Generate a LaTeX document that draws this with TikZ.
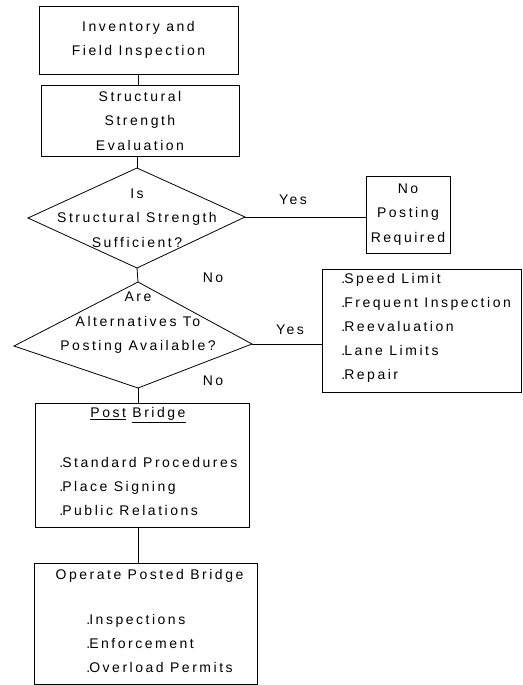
\documentclass[tikz,border=0pt]{standalone}
\usepackage{fontspec}
\setmainfont{Liberation Sans}[LetterSpace=18]
\usetikzlibrary{calc}

\newcommand{\itm}[1]{.\kern-1pt#1}

\tikzset{
  box/.style={draw, line width=0.8pt, inner sep=0pt},
  txt/.style={font=\fontsize{14}{24.5}\selectfont, align=center, inner sep=0pt},
  lst/.style={font=\fontsize{14}{24}\selectfont, align=left, inner sep=0pt, anchor=west}
}

\begin{document}
\begin{tikzpicture}[x=1pt, y=-1pt, line width=0.8pt]
  \useasboundingbox (0,0) rectangle (522,685);

  % boxes on the main line
  \node[box, txt, minimum width=199, minimum height=68] (inv) at (138.5,40) {Inventory and\\Field Inspection};
  \node[box, txt, minimum width=198, minimum height=71] (eval) at (140,120.5) {Structural\\Strength\\Evaluation};

  % first decision
  \coordinate (d1t) at (137,168);
  \coordinate (d1l) at (28,218);
  \coordinate (d1r) at (245,217);
  \coordinate (d1b) at (137,268);
  \draw (d1t) -- (d1r) -- (d1b) -- (d1l) -- cycle;
  \node[txt] (q1) at (137,218) {Is\\Structural Strength\\Sufficient?};

  \node[box, txt, minimum width=84, minimum height=77] (nopost) at (408,214.5) {No\\Posting\\Required};

  % second decision
  \coordinate (d2t) at (138,282);
  \coordinate (d2l) at (14,346);
  \coordinate (d2r) at (252,344);
  \coordinate (d2b) at (138,388);
  \draw (d2t) -- (d2r) -- (d2b) -- (d2l) -- cycle;
  \node[txt] (q2) at (138,323) {Are\\Alternatives To\\Posting Available?};

  \node[box, minimum width=199, minimum height=123] (alt) at (421.5,330.5) {};
  \node[lst] (altlist) at (341,328) {\itm{Speed Limit}\\\itm{Frequent Inspection}\\\itm{Reevaluation}\\\itm{Lane Limits}\\\itm{Repair}};

  % posting
  \node[box, minimum width=214, minimum height=124] (post) at (142,465) {};
  \node[txt] (posttitle) at (138,415) {\underline{Post} \underline{Bridge}};
  \node[lst] (postlist) at (59,486) {\itm{Standard Procedures}\\\itm{Place Signing}\\\itm{Public Relations}};

  \node[box, minimum width=223, minimum height=121] (oper) at (145.5,623.5) {};
  \node[txt] (opertitle) at (149.5,576) {Operate Posted Bridge};
  \node[lst] (operlist) at (86,643) {\itm{Inspections}\\\itm{Enforcement}\\\itm{Overload Permits}};

  % labels
  \node[txt] (yes1) at (293,200) {Yes};
  \node[txt] (no1) at (213,278) {No};
  \node[txt] (yes2) at (290,330) {Yes};
  \node[txt] (no2) at (213,381) {No};

  % connectors
  \draw (inv.south) -- (inv.south |- eval.north);
  \draw (eval.south -| d1t) -- (d1t);
  \draw (d1r) -- (d1r -| nopost.west);
  \draw (d1b) -- (d2t);
  \draw (d2r) -- (d2r -| alt.west);
  \draw (d2b) -- (d2b |- post.north);
  \draw (d2b |- post.south) -- (d2b |- oper.north);
\end{tikzpicture}
\end{document}
